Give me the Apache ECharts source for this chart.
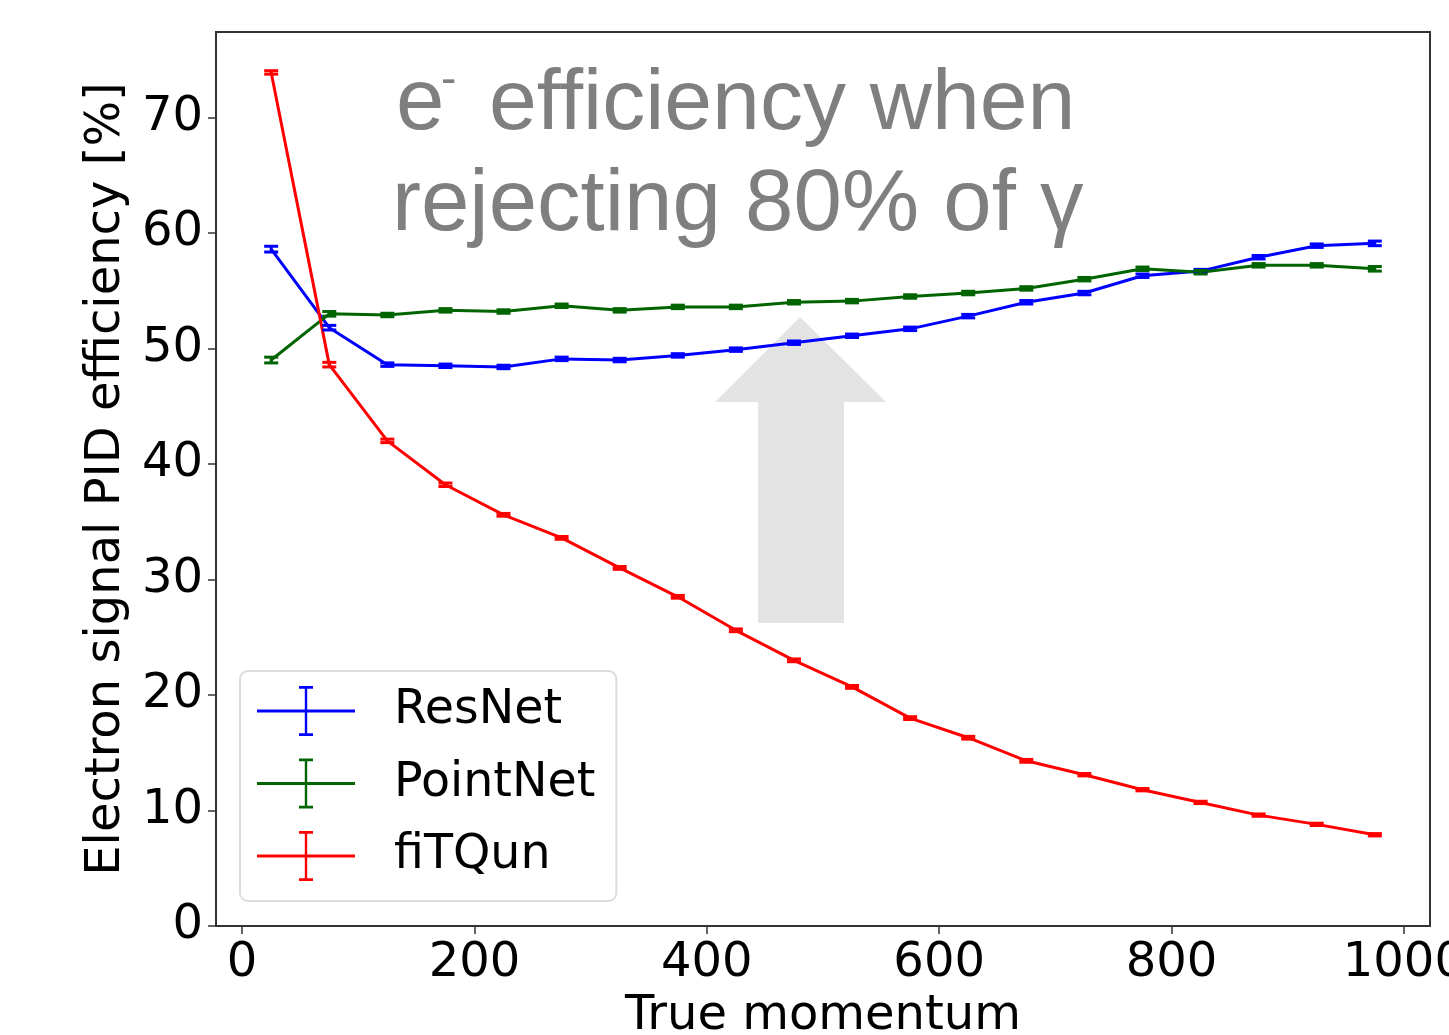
<!DOCTYPE html>
<html>
<head>
<meta charset="utf-8">
<script src="https://cdn.jsdelivr.net/npm/echarts@6/dist/echarts.min.js"></script>
<style>
  html, body { margin: 0; padding: 0; background: #fff; }
  #chart { width: 1449px; height: 1035px; }
</style>
</head>
<body>
<div id="chart"></div>
<script>
// momentum bin centres
const momentum = [25, 75, 125, 175, 225, 275, 325, 375, 425, 475, 525, 575, 625, 675, 725, 775, 825, 875, 925, 975];

const resnet = [58.6, 51.8, 48.6, 48.5, 48.4, 49.1, 49.0, 49.4, 49.9, 50.5, 51.1, 51.7, 52.8, 54.0, 54.8, 56.3, 56.7, 57.9, 58.9, 59.1];
const resnetErr = [0.25, 0.2, 0.15, 0.15, 0.15, 0.15, 0.15, 0.15, 0.15, 0.15, 0.15, 0.15, 0.15, 0.15, 0.15, 0.15, 0.15, 0.15, 0.15, 0.2];

const pointnet = [49.0, 53.0, 52.9, 53.3, 53.2, 53.7, 53.3, 53.6, 53.6, 54.0, 54.1, 54.5, 54.8, 55.2, 56.0, 56.9, 56.6, 57.2, 57.2, 56.9];
const pointnetErr = [0.25, 0.2, 0.15, 0.15, 0.15, 0.15, 0.15, 0.15, 0.15, 0.15, 0.15, 0.15, 0.15, 0.15, 0.15, 0.15, 0.15, 0.15, 0.15, 0.2];

const fitqun = [73.9, 48.6, 42.0, 38.2, 35.6, 33.6, 31.0, 28.5, 25.6, 23.0, 20.7, 18.0, 16.3, 14.3, 13.1, 11.8, 10.7, 9.6, 8.8, 7.9];
const fitqunErr = [0.15, 0.2, 0.15, 0.15, 0.12, 0.12, 0.12, 0.12, 0.12, 0.12, 0.12, 0.12, 0.12, 0.12, 0.1, 0.1, 0.1, 0.1, 0.1, 0.1];

const xTicks = [0, 200, 400, 600, 800, 1000];
const yTicks = [0, 10, 20, 30, 40, 50, 60, 70];

const chart = echarts.init(document.getElementById('chart'));

const font = 'DejaVu Sans';
// legend icon: horizontal line with an error bar
const errIcon = 'path://M0,23.6H98V26.4H0Z M47.8,0H50.2V50H47.8Z M42,0H56V2.8H42Z M42,47.2H56V50H42Z';

function pts(ys, errs) {
    return momentum.map((x, i) => [x, ys[i], errs[i]]);
}

function renderErr(params, api) {
    const x = api.value(0), y = api.value(1), e = api.value(2);
    const lo = api.coord([x, y - e]);
    const hi = api.coord([x, y + e]);
    const c = api.visual('color');
    const w = 7;
    const st = { stroke: c, lineWidth: 3 };
    return {
        type: 'group',
        children: [
            { type: 'line', shape: { x1: lo[0], y1: lo[1], x2: hi[0], y2: hi[1] }, style: st },
            { type: 'line', shape: { x1: lo[0] - w, y1: lo[1], x2: lo[0] + w, y2: lo[1] }, style: st },
            { type: 'line', shape: { x1: hi[0] - w, y1: hi[1], x2: hi[0] + w, y2: hi[1] }, style: st }
        ]
    };
}

function makeSeries(name, color, ys, errs) {
    return [
        {
            name: name,
            type: 'line',
            data: pts(ys, errs),
            color: color,
            symbol: 'none',
            lineStyle: { width: 3, color: color },
            z: 3
        },
        {
            name: name + ' err',
            type: 'custom',
            data: pts(ys, errs),
            color: color,
            renderItem: renderErr,
            encode: { x: 0, y: 1 },
            z: 4
        }
    ];
}

const option = {
    animation: false,
    backgroundColor: '#fff',
    grid: {
        left: 216, right: 19, top: 32, bottom: 109,
        outerBoundsMode: 'none',
        containLabel: false,
        show: true, borderColor: '#333', borderWidth: 2, backgroundColor: '#fff'
    },
    xAxis: {
        type: 'value',
        min: -22.5, max: 1022.5,
        name: 'True momentum',
        nameLocation: 'middle',
        nameGap: 64,
        nameTextStyle: { fontFamily: font, fontSize: 48, color: '#000' },
        splitLine: { show: false },
        axisLine: { show: true, onZero: false, lineStyle: { color: '#333', width: 2 } },
        axisTick: { show: true, length: 8, customValues: xTicks, lineStyle: { color: '#333', width: 1.5 } },
        axisLabel: {
            customValues: xTicks, fontFamily: font, fontSize: 48, color: '#000', margin: 14,
            formatter: v => String(v)
        }
    },
    yAxis: {
        type: 'value',
        min: 0, max: 77.4,
        name: 'Electron signal PID efficiency [%]',
        nameLocation: 'middle',
        nameRotate: 90,
        nameGap: 82,
        nameTextStyle: { fontFamily: font, fontSize: 48, color: '#000' },
        splitLine: { show: false },
        axisLine: { show: true, onZero: false, lineStyle: { color: '#333', width: 2 } },
        axisTick: { show: true, length: 8, customValues: yTicks, lineStyle: { color: '#333', width: 1.5 } },
        axisLabel: {
            customValues: yTicks, fontFamily: font, fontSize: 48, color: '#000', margin: 13,
            formatter: v => String(v)
        }
    },
    legend: {
        data: ['ResNet', 'PointNet', 'fiTQun'],
        orient: 'vertical',
        left: 240, top: 671,
        padding: [15, 21, 20, 17],
        itemWidth: 98, itemHeight: 50, itemGap: 22.5,
        icon: errIcon,
        backgroundColor: '#fff',
        borderColor: '#dcdcdc', borderWidth: 2, borderRadius: 8,
        textStyle: { fontFamily: font, fontSize: 47.5, color: '#000', lineHeight: 50, padding: [0, 0, 0, 34] },
        itemStyle: { borderWidth: 0 },
        selectedMode: false,
        z: 10
    },
    graphic: [
        {
            type: 'group',
            z: 20,
            children: [
                {
                    type: 'polygon',
                    shape: { points: [[715, 402], [800, 317], [886, 402], [844, 402], [844, 623], [758, 623], [758, 402]] },
                    style: { fill: '#e3e3e3' }
                }
            ]
        },
        {
            type: 'text', left: 396, top: 62, z: 20,
            style: { text: 'e', fontFamily: 'Liberation Sans', fontSize: 87, fill: '#7f7f7f' }
        },
        {
            type: 'text', left: 441, top: 58, z: 20,
            style: { text: '-', fontFamily: 'Liberation Sans', fontSize: 46, fill: '#7f7f7f' }
        },
        {
            type: 'text', left: 489, top: 62, z: 20,
            style: { text: 'efficiency when', fontFamily: 'Liberation Sans', fontSize: 86, fill: '#7f7f7f' }
        },
        {
            type: 'text', left: 392, top: 163, z: 20,
            style: { text: 'rejecting 80% of γ', fontFamily: 'Liberation Sans', fontSize: 87, fill: '#7f7f7f' }
        }
    ],
    series: [
        ...makeSeries('ResNet', '#0000ff', resnet, resnetErr),
        ...makeSeries('PointNet', '#006400', pointnet, pointnetErr),
        ...makeSeries('fiTQun', '#ff0000', fitqun, fitqunErr)
    ]
};

chart.setOption(option);
</script>
</body>
</html>
